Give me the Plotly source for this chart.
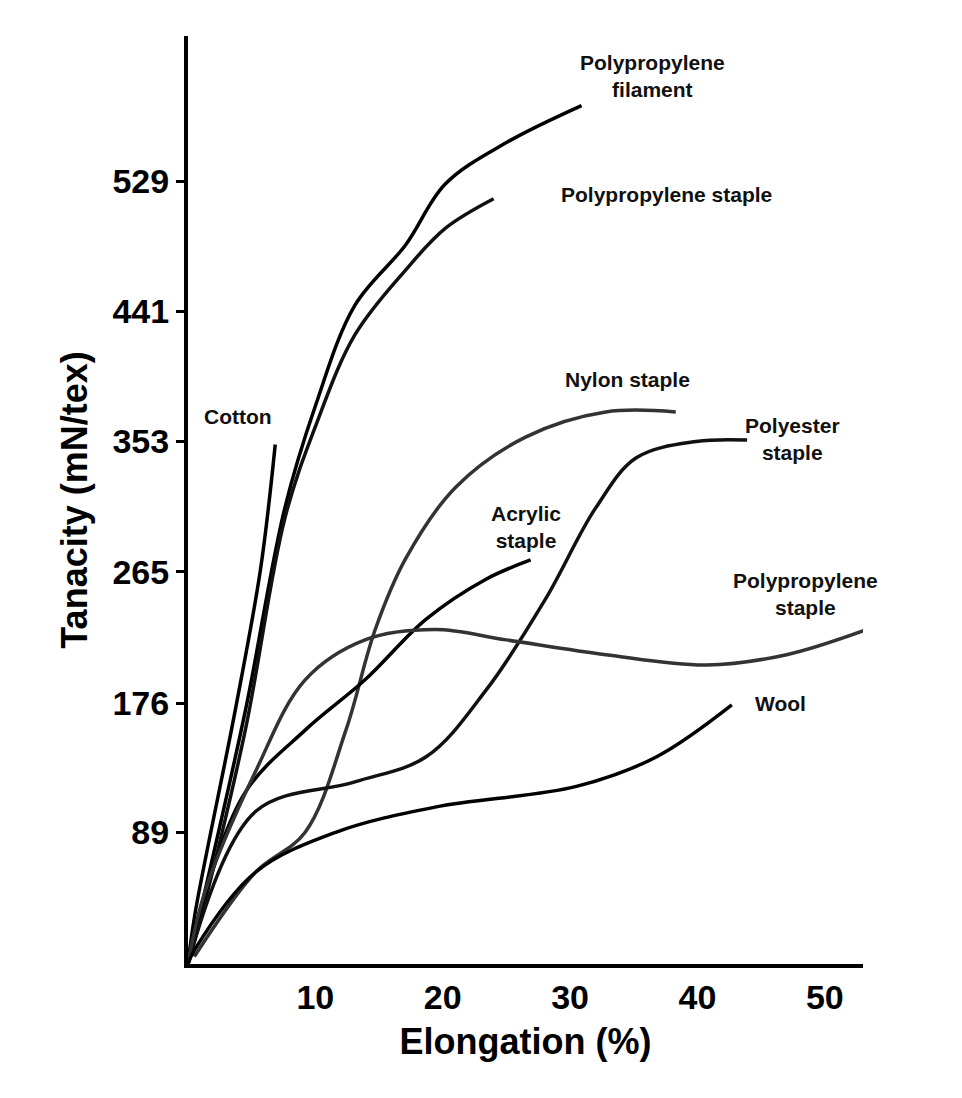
import plotly.graph_objects as go

# curves (elongation %, tenacity mN/tex)
pp_fil_x = [0, 1.3, 4.5, 7.6, 10, 13.1, 17.1, 20.2, 25, 30.9]
pp_fil_y = [0, 48, 171, 308, 377, 445, 486, 527, 555, 580]
pp_st1_x = [0, 1.3, 4.5, 7.6, 10, 13.1, 17.1, 20.2, 24]
pp_st1_y = [0, 41, 158, 301, 363, 425, 469, 497, 517]
cotton_x = [0, 0.55, 3.7, 5.7, 6.85]
cotton_y = [0, 34, 171, 267, 351]
nylon_x = [0.5, 5.3, 9.2, 12.4, 14.7, 17.1, 21, 26.5, 32.8, 38.3]
nylon_y = [5, 62, 89, 158, 226, 274, 322, 356, 373, 373]
polyester_x = [0, 5.3, 13.1, 18.7, 23.4, 28.1, 32, 35.2, 39.9, 43.9]
polyester_y = [0, 103, 123, 140, 185, 247, 308, 342, 353, 354]
acrylic_x = [0, 0.9, 4.5, 9.2, 13.9, 18.7, 23.4, 26.9]
acrylic_y = [0, 34, 116, 158, 192, 233, 260, 273]
pp_st2_x = [0, 1.3, 5.3, 9.2, 13.9, 19.4, 25, 32.8, 40.7, 47, 53.3]
pp_st2_y = [0, 48, 130, 192, 219, 226, 219, 209, 202, 209, 226]
wool_x = [0, 0.55, 5.3, 11.6, 19.4, 30.5, 36.8, 42.7]
wool_y = [0, 10, 62, 89, 106, 120, 140, 175]

y_ticks = [89, 176, 265, 353, 441, 529]
x_ticks = [10, 20, 30, 40, 50]

series = [
    (pp_fil_x, pp_fil_y, "#000000"),
    (pp_st1_x, pp_st1_y, "#111111"),
    (cotton_x, cotton_y, "#000000"),
    (nylon_x, nylon_y, "#333333"),
    (polyester_x, polyester_y, "#111111"),
    (acrylic_x, acrylic_y, "#000000"),
    (pp_st2_x, pp_st2_y, "#333333"),
    (wool_x, wool_y, "#000000"),
]

fig = go.Figure()
for xs, ys, c in series:
    fig.add_trace(go.Scatter(x=xs, y=ys, mode="lines", line_shape="spline",
                             line=dict(color=c, width=3.5), showlegend=False))

labels = [
    (36.5, 600, "Polypropylene<br>filament"),
    (37.6, 520, "Polypropylene staple"),
    (3.9, 370, "Cotton"),
    (34.5, 395, "Nylon staple"),
    (47.5, 355, "Polyester<br>staple"),
    (26.5, 295, "Acrylic<br>staple"),
    (48.5, 250, "Polypropylene<br>staple"),
    (46.5, 176, "Wool"),
]
for x, y, t in labels:
    fig.add_annotation(x=x, y=y, text="<b>" + t + "</b>", showarrow=False,
                       font=dict(size=21, color="#111111"))

axis_font = dict(family="Liberation Sans", size=34, color="black")
fig.update_xaxes(range=[0, 53], tickvals=x_ticks, ticktext=["<b>%d</b>" % v for v in x_ticks],
                 showline=True, linewidth=4, linecolor="black", showgrid=False, zeroline=False,
                 ticks="", tickfont=axis_font,
                 title=dict(text="<b>Elongation (%)</b>", font=dict(family="Liberation Sans", size=36)))
fig.update_yaxes(range=[0, 627], tickvals=y_ticks, ticktext=["<b>%d</b>" % v for v in y_ticks],
                 showline=True, linewidth=4, linecolor="black", showgrid=False, zeroline=False,
                 ticks="outside", ticklen=8, tickwidth=3, tickcolor="black", tickfont=axis_font,
                 title=dict(text="<b>Tanacity (mN/tex)</b>", font=dict(family="Liberation Sans", size=36)))
fig.update_layout(width=962, height=1098, plot_bgcolor="white", paper_bgcolor="white",
                  margin=dict(l=180, r=107, t=28, b=142),
                  font=dict(family="Liberation Sans", color="black"))
fig.write_html("out.html")
